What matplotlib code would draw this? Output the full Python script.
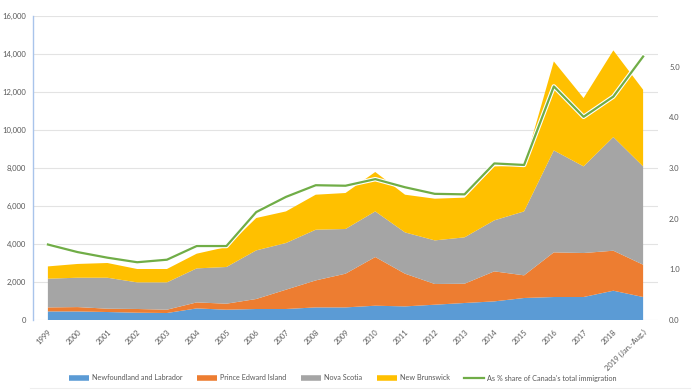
import matplotlib
matplotlib.use("Agg")
import matplotlib.pyplot as plt
import matplotlib.patheffects as pe
from matplotlib.lines import Line2D
import numpy as np

plt.rcParams['font.family'] = ['Lato', 'DejaVu Sans']

years = ["1999", "2000", "2001", "2002", "2003", "2004", "2005", "2006", "2007", "2008",
         "2009", "2010", "2011", "2012", "2013", "2014", "2015", "2016", "2017", "2018",
         "2019 (Jan.-Aug.)"]
newfoundland = [452, 450, 420, 384, 368, 610, 542, 579, 579, 663, 663, 752, 716, 805, 895,
                980, 1158, 1210, 1210, 1542, 1210]
pei = [211, 230, 175, 196, 174, 316, 316, 526, 1016, 1421, 1774, 2563, 1721, 1090, 1015,
       1580, 1192, 2350, 2315, 2105, 1700]
nova_scotia = [1511, 1545, 1630, 1400, 1438, 1790, 1932, 2558, 2457, 2668, 2353, 2401, 2173,
               2295, 2440, 2685, 3366, 5365, 4560, 5983, 5175]
new_brunswick = [647, 725, 775, 704, 704, 774, 1050, 1705, 1664, 1843, 1894, 2074, 1985,
                 2194, 2090, 2840, 2404, 4685, 3595, 4560, 4035]
share_pct = [1.49, 1.34, 1.23, 1.14, 1.19, 1.46, 1.46, 2.13, 2.43, 2.66, 2.65, 2.78, 2.62,
             2.49, 2.48, 3.09, 3.06, 4.61, 4.01, 4.41, 5.20]

series_names = ["Newfoundland and Labrador", "Prince Edward Island", "Nova Scotia",
                "New Brunswick"]
line_name = "As % share of Canada's total immigration"
colors = ["#5B9BD5", "#ED7D31", "#A5A5A5", "#FFC000"]
line_color = "#70AD47"
text_color = "#595959"

fig = plt.figure(figsize=(6.96, 3.91), dpi=100)
ax = fig.add_axes([33 / 696, 1 - 320 / 391, 625 / 696, 304 / 391])
x = np.arange(len(years))
ax.stackplot(x, newfoundland, pei, nova_scotia, new_brunswick, colors=colors,
             linewidth=0, zorder=2)
ax.set_xlim(-0.5, len(years) - 0.5)
ax.set_ylim(0, 16000)
ax.set_yticks(np.arange(0, 16001, 2000))
ax.set_yticklabels([f"{v:,}" for v in range(0, 16001, 2000)])
ax.grid(axis='y', color="#E3E3E3", linewidth=0.8, zorder=0)
ax.set_axisbelow(True)
for s in ["top", "right", "bottom"]:
    ax.spines[s].set_visible(False)
ax.spines["left"].set_color("#A9C4EB")
ax.spines["left"].set_linewidth(1.0)
ax.tick_params(axis='y', length=0, labelsize=5.5, labelcolor=text_color, pad=5)
ax.set_xticks(x)
ax.set_xticklabels(years, rotation=45, ha='right', rotation_mode='anchor')
ax.tick_params(axis='x', length=0, labelsize=5.5, labelcolor=text_color, pad=6)

ax2 = ax.twinx()
ax2.plot(x, share_pct, color=line_color, linewidth=1.6, zorder=5,
         path_effects=[pe.Stroke(linewidth=3.2, foreground="white"), pe.Normal()])
ax2.set_ylim(0, 6)
ax2.set_yticks(np.arange(0, 5.01, 1.0))
ax2.set_yticklabels([f"{v:.1f}" for v in np.arange(0, 5.01, 1.0)])
for s in ["top", "right", "bottom", "left"]:
    ax2.spines[s].set_visible(False)
ax2.tick_params(axis='y', length=0, labelsize=5.5, labelcolor=text_color, pad=8)

handles = [Line2D([0], [0], color=c, linewidth=4, solid_capstyle='butt') for c in colors]
handles.append(Line2D([0], [0], color=line_color, linewidth=1.6))
fig.legend(handles, series_names + [line_name], loc='center', ncol=5,
           bbox_to_anchor=(343 / 696, 1 - 378 / 391), frameon=False, fontsize=5.2,
           labelcolor=text_color, handlelength=2.8, columnspacing=2.0, handletextpad=0.4)

fig.add_artist(Line2D([30 / 696, 690 / 696], [1 - 388 / 391] * 2, color="#EEEEEE",
                      linewidth=0.8))

fig.savefig("out.png", dpi=100)
